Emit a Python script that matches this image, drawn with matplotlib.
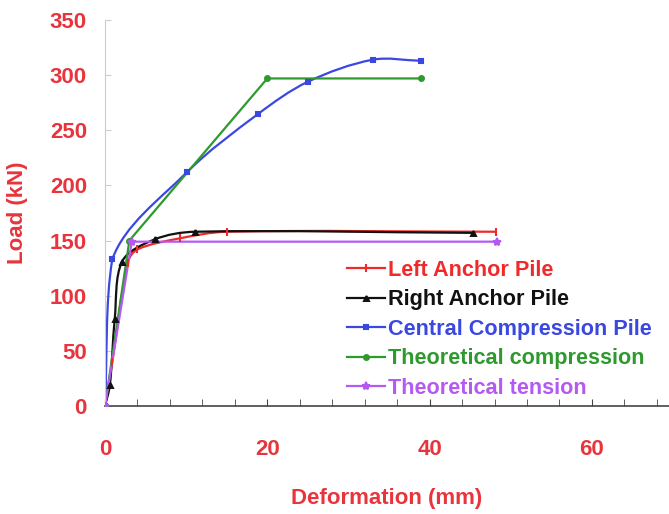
import numpy as np
import matplotlib
matplotlib.use("Agg")
import matplotlib.pyplot as plt
from matplotlib.path import Path
from matplotlib.patches import PathPatch
from matplotlib.lines import Line2D
from matplotlib.ticker import MultipleLocator

plt.rcParams['font.family'] = ['Liberation Sans', 'DejaVu Sans']
plt.rcParams['font.weight'] = 'bold'

# deformation (mm) / load (kN)
left_x = [0, 0.9, 2.8, 4.0, 9.2, 15.0, 48.2]
left_y = [0, 40, 130, 142, 152, 158, 158]

right_x = [0, 0.6, 1.2, 2.1, 6.1, 11.1, 45.4]
right_y = [0, 19, 79, 131, 151, 158, 157]

central_x = [0, 0.9, 10.1, 18.9, 25.0, 33.0, 38.9]
central_y = [0, 133, 212, 265, 294, 314, 313]

comp_x = [0, 3.0, 20.0, 39.0]
comp_y = [0, 150, 297, 297]

tension_x = [0, 3.3, 48.3]
tension_y = [0, 149, 149]

RED = "#f02a2a"
TXT_RED = "#e8343c"
BLACK = "#111111"
BLUE = "#3a48e0"
GREEN = "#2e9a2e"
PURPLE = "#b45af2"

# rough pixel size of one data unit, used to keep the smoothing in screen space
SX, SY = 8.1, 1.1


def smooth_path(xs, ys):
    # smoothed line: cubic beziers, tangents weighted by neighbouring segment lengths,
    # control points kept inside the x range of each segment
    pts = np.column_stack([xs, ys]).astype(float)
    scr = pts * [SX, SY]
    n = len(pts)

    def tangent(i):
        d0 = np.linalg.norm(scr[i] - scr[i - 1])
        d1 = np.linalg.norm(scr[i + 1] - scr[i])
        return pts[i + 1] - pts[i - 1], d0 + d1

    verts = [pts[0]]
    codes = [Path.MOVETO]
    for i in range(n - 1):
        a, b = pts[i], pts[i + 1]
        seg = np.linalg.norm(scr[i + 1] - scr[i])
        if i == 0:
            c1 = a + (b - a) / 3.0
        else:
            t, s = tangent(i)
            c1 = a + t * seg / (3.0 * s)
        if i + 1 == n - 1:
            c2 = b - (b - a) / 3.0
        else:
            t, s = tangent(i + 1)
            c2 = b - t * seg / (3.0 * s)
        lo, hi = min(a[0], b[0]), max(a[0], b[0])
        c1[0] = np.clip(c1[0], lo, hi)
        c2[0] = np.clip(c2[0], lo, hi)
        verts += [c1, c2, b]
        codes += [Path.CURVE4] * 3
    return Path(verts, codes)


fig = plt.figure(figsize=(6.69, 5.14), dpi=100)
ax = fig.add_axes([105 / 669, 1 - 406 / 514, 1 - 105 / 669, (406 - 20) / 514])

series = [
    (left_x, left_y, RED, '|', True, "Left Anchor Pile"),
    (right_x, right_y, BLACK, '^', True, "Right Anchor Pile"),
    (central_x, central_y, BLUE, 's', True, "Central Compression Pile"),
    (comp_x, comp_y, GREEN, 'o', False, "Theoretical compression"),
    (tension_x, tension_y, PURPLE, '*', False, "Theoretical tension"),
]

handles = []
for xs, ys, col, mk, smooth, lab in series:
    if smooth:
        ax.add_patch(PathPatch(smooth_path(xs, ys), fill=False, edgecolor=col,
                               lw=1.6, zorder=2))
    else:
        ax.plot(xs, ys, color=col, lw=1.6, zorder=2)
    ms = 6 if mk in ('|', '*') else 3.5
    ax.plot(xs, ys, ls='none', marker=mk, color=col, ms=ms, mew=1.5, zorder=3)
    handles.append(Line2D([], [], color=col, lw=1.6, marker=mk, ms=ms, mew=1.5, label=lab))

ax.set_xlim(0, 69.5)
ax.set_ylim(0, 350)
ax.xaxis.set_major_locator(MultipleLocator(20))
ax.xaxis.set_minor_locator(MultipleLocator(4))
ax.yaxis.set_major_locator(MultipleLocator(50))

for s in ('top', 'right'):
    ax.spines[s].set_visible(False)
ax.spines['left'].set_color('#cccccc')
ax.spines['bottom'].set_color('#444444')
ax.spines['bottom'].set_linewidth(1.2)

ax.tick_params(axis='x', which='both', direction='in', length=5, color='#444444',
               labelsize=16, labelcolor=TXT_RED, pad=24)
ax.tick_params(axis='y', direction='in', length=4, color='#cccccc',
               labelsize=16, labelcolor=TXT_RED, pad=13)

ax.set_xlabel("Deformation (mm)", fontsize=16, color=TXT_RED, fontweight='bold', labelpad=20)
ax.set_ylabel("Load (kN)", fontsize=16, color=TXT_RED, fontweight='bold', labelpad=16)

leg = ax.legend(handles=handles, loc='upper left', bbox_to_anchor=(347 / 669, 1 - 260 / 514),
                bbox_transform=fig.transFigure, frameon=False, fontsize=15.6,
                handlelength=1.75, handletextpad=0.15, labelspacing=0.39, borderpad=0,
                borderaxespad=0)
for txt, (_, _, col, _, _, _) in zip(leg.get_texts(), series):
    txt.set_color(col)
    txt.set_fontweight('bold')

fig.savefig("out.png", dpi=100)
